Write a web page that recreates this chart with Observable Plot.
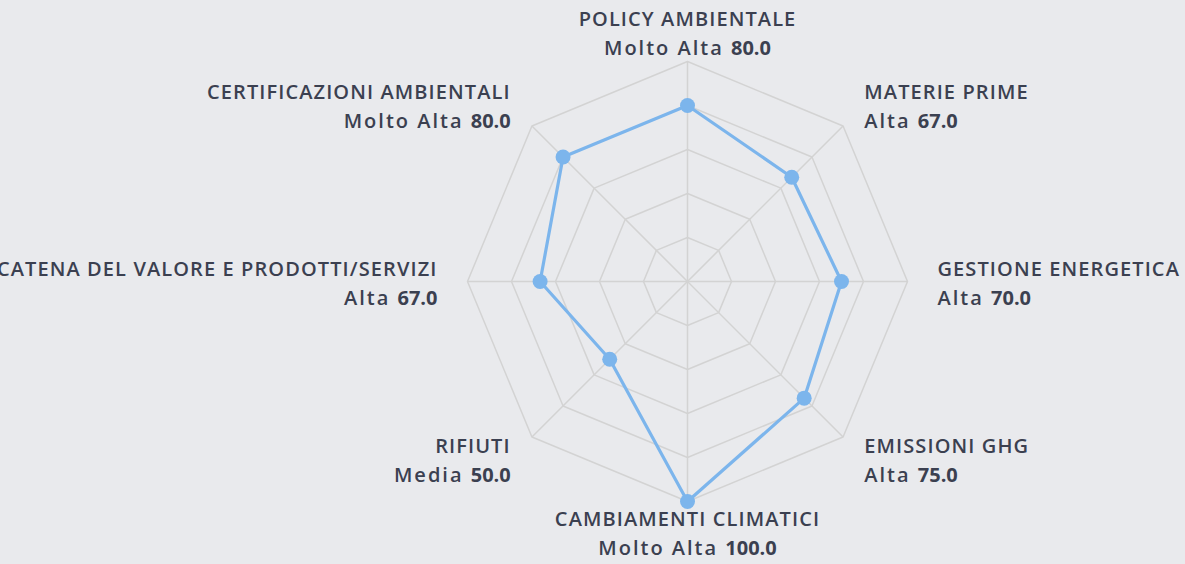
<!DOCTYPE html>
<html><head><meta charset="utf-8">
<script src="https://cdn.jsdelivr.net/npm/d3@7"></script>
<script src="https://cdn.jsdelivr.net/npm/@observablehq/plot@0.6"></script>
<style>html,body{margin:0;padding:0;background:#e9eaed;overflow:hidden}</style>
</head><body><div id="chart"></div>
<script>
const categories = ["POLICY AMBIENTALE","MATERIE PRIME","GESTIONE ENERGETICA","EMISSIONI GHG","CAMBIAMENTI CLIMATICI","RIFIUTI","CATENA DEL VALORE E PRODOTTI/SERVIZI","CERTIFICAZIONI AMBIENTALI"];
const values = [80,67,70,75,100,50,67,80];
const levels = ["Molto Alta","Alta","Alta","Alta","Molto Alta","Media","Alta","Molto Alta"];
const gridLevels = [20,40,60,80,100];

const W = 1185, H = 564, cx = 687, cy = 281, k = 2.2;
const n = categories.length;
const ang = i => i * 2 * Math.PI / n;
const pos = (r, i) => ({x: r * Math.sin(ang(i)), y: r * Math.cos(ang(i))});

const ring = gridLevels.flatMap(l => categories.map((c, i) => ({level: l, ...pos(l, i)})));
const spokes = categories.map((c, i) => ({...pos(100, i)}));
const pts = categories.map((c, i) => ({cat: c, ...pos(values[i], i)}));
const labelDist = 100 + 30 / k;
const labels = categories.map((c, i) => {
  const p = pos(labelDist, i);
  const s = Math.sin(ang(i));
  return {x: p.x, y: p.y + 0.5 / k, text: c + "\n" + levels[i] + " " + values[i].toFixed(1),
          anchor: Math.abs(s) < 1e-6 ? "middle" : (s > 0 ? "start" : "end")};
});

const SVGNS = "http://www.w3.org/2000/svg";
const styleLabels = (index, scales, vals, dims, ctx, next) => {
  const g = next(index, scales, vals, dims, ctx);
  d3.select(g).selectAll("text").each(function() {
    const ts = this.querySelectorAll("tspan");
    ts[0].setAttribute("letter-spacing", "1.1");
    const last = ts[ts.length - 1];
    const t = last.textContent;
    const j = t.lastIndexOf(" ");
    last.textContent = "";
    const a = document.createElementNS(SVGNS, "tspan");
    a.setAttribute("letter-spacing", "2");
    a.textContent = t.slice(0, j + 1);
    const b = document.createElementNS(SVGNS, "tspan");
    b.setAttribute("font-weight", "700");
    b.setAttribute("letter-spacing", "0");
    b.textContent = t.slice(j + 1);
    last.appendChild(a);
    last.appendChild(b);
  });
  return g;
};

const textMark = a => Plot.text(labels.filter(d => d.anchor === a), {
  x: "x", y: "y", text: "text", textAnchor: a, lineAnchor: "middle",
  fontSize: 20, lineHeight: 1.45, fontWeight: 600, fill: "#3b4050", render: styleLabels
});

const chart = Plot.plot({
  width: W, height: H, margin: 0,
  x: {type: "linear", domain: [-cx / k, (W - cx) / k], range: [0, W], axis: null},
  y: {type: "linear", domain: [cy / k, -(H - cy) / k], range: [0, H], axis: null},
  style: {background: "#e9eaed", fontFamily: "'Open Sans', sans-serif"},
  marks: [
    Plot.link(spokes, {x1: 0, y1: 0, x2: "x", y2: "y", stroke: "#d3d3d3", strokeWidth: 1.5}),
    Plot.line(ring, {x: "x", y: "y", z: "level", curve: "linear-closed", stroke: "#d3d3d3", strokeWidth: 1.5}),
    Plot.line(pts, {x: "x", y: "y", curve: "linear-closed", stroke: "#7cb5ec", strokeWidth: 3.2}),
    Plot.dot(pts, {x: "x", y: "y", r: 7.5, fill: "#7cb5ec"}),
    textMark("start"), textMark("middle"), textMark("end")
  ]
});
document.getElementById("chart").appendChild(chart);
</script></body></html>
